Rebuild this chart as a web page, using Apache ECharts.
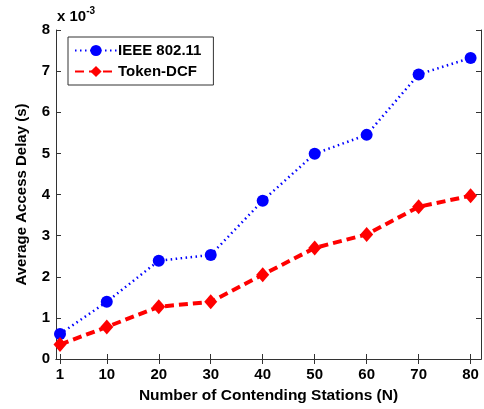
<!DOCTYPE html>
<html><head><meta charset="utf-8">
<script src="https://cdn.jsdelivr.net/npm/echarts@6/dist/echarts.min.js"></script>
<style>html,body{margin:0;padding:0;background:#fff}#c{width:484px;height:409px}</style>
</head><body><div id="c"></div>
<script>
const stations = [1, 10, 20, 30, 40, 50, 60, 70, 80];
const ieee = [0.61, 1.39, 2.39, 2.53, 3.85, 4.99, 5.45, 6.92, 7.32];
const tokenDcf = [0.35, 0.78, 1.27, 1.39, 2.05, 2.70, 3.03, 3.70, 3.97];
const yTicks = [0, 1, 2, 3, 4, 5, 6, 7, 8];
const seriesNames = ['IEEE 802.11', 'Token-DCF'];

const font = 'Liberation Sans, Arial, sans-serif';
const chart = echarts.init(document.getElementById('c'));
const pair = (xs, ys) => xs.map((x, i) => [x, ys[i]]);
const axisLine = {show: true, lineStyle: {color: '#333', width: 1}};
chart.setOption({
  animation: false,
  grid: {left: 56, right: 3, top: 30, bottom: 44.5, show: false},
  legend: {
    left: 68, top: 37, orient: 'vertical',
    data: seriesNames,
    borderColor: '#333', borderWidth: 1, backgroundColor: '#fff',
    padding: [6, 12, 6, 6], itemGap: 6, itemWidth: 42, itemHeight: 14,
    textStyle: {fontFamily: font, fontSize: 15, fontWeight: 'bold', color: '#000', padding: [0, 0, 0, -4]}
  },
  xAxis: [{
    type: 'value', min: 0.23, max: 82, position: 'bottom',
    axisLine: axisLine,
    axisTick: {show: true, inside: true, length: 5, customValues: stations, lineStyle: {color: '#333'}},
    axisLabel: {customValues: stations, fontFamily: font, fontSize: 15, fontWeight: 'bold', color: '#000', margin: 8},
    splitLine: {show: false},
    name: 'Number of Contending Stations (N)', nameLocation: 'middle', nameGap: 29,
    nameTextStyle: {fontFamily: font, fontSize: 15.5, fontWeight: 'bold', color: '#000'}
  }, {
    type: 'value', min: 0.23, max: 82, position: 'top',
    axisLine: axisLine,
    axisTick: {show: true, inside: true, length: 5, customValues: stations, lineStyle: {color: '#333'}},
    axisLabel: {show: false}, splitLine: {show: false}
  }],
  yAxis: [{
    type: 'value', min: 0, max: 8, interval: 1, position: 'left',
    axisLine: axisLine,
    axisTick: {show: true, inside: true, length: 5, lineStyle: {color: '#333'}},
    axisLabel: {fontFamily: font, fontSize: 15, fontWeight: 'bold', color: '#000', margin: 6},
    splitLine: {show: false},
    name: 'Average Access Delay (s)', nameLocation: 'middle', nameGap: 27, nameRotate: 90,
    nameTextStyle: {fontFamily: font, fontSize: 15, fontWeight: 'bold', color: '#000'}
  }, {
    type: 'value', min: 0, max: 8, interval: 1, position: 'right',
    axisLine: axisLine,
    axisTick: {show: true, inside: true, length: 5, lineStyle: {color: '#333'}},
    axisLabel: {show: false}, splitLine: {show: false}
  }],
  graphic: [{
    type: 'text', left: 57, top: 6,
    style: {
      text: '{b|x 10}{s|-3}',
      rich: {
        b: {fontFamily: font, fontSize: 15, fontWeight: 'bold', fill: '#000', verticalAlign: 'bottom'},
        s: {fontFamily: font, fontSize: 10, fontWeight: 'bold', fill: '#000', verticalAlign: 'top', padding: [0, 0, 8, 0]}
      }
    }
  }],
  series: [{
    name: seriesNames[0], type: 'line', data: pair(stations, ieee),
    symbol: 'circle', symbolSize: 12, color: '#0000ff',
    lineStyle: {color: '#0000ff', width: 2.5, type: [1.5, 3.5]},
    itemStyle: {color: '#0000ff'}
  }, {
    name: seriesNames[1], type: 'line', data: pair(stations, tokenDcf),
    symbol: 'diamond', symbolSize: [13, 15], color: '#ff0000',
    lineStyle: {color: '#ff0000', width: 4, type: [9, 5]},
    itemStyle: {color: '#ff0000'}
  }]
});
</script></body></html>
